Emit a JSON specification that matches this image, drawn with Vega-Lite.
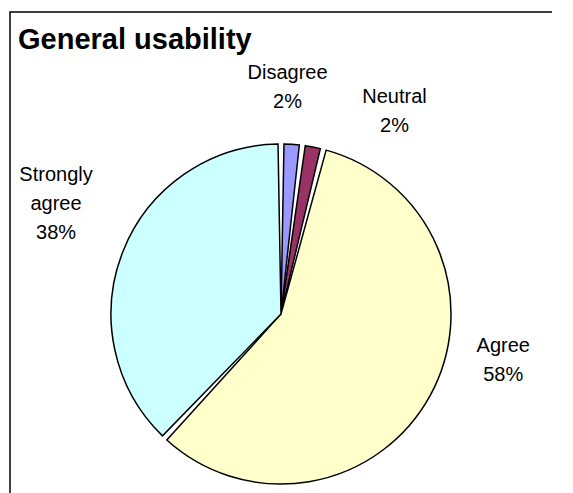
{
  "$schema": "https://vega.github.io/schema/vega-lite/v6.json",
  "autosize": "none",
  "width": 542,
  "height": 604,
  "padding": {"left": 10, "top": 12, "right": 0, "bottom": 0},
  "background": "white",
  "config": {
    "font": "Liberation Sans",
    "style": {"view": {"stroke": "black", "strokeWidth": 1.5, "strokeDash": [542, 1208, 542]}}
  },
  "title": {
    "text": "General usability",
    "anchor": "start",
    "frame": "group",
    "font": "Liberation Sans",
    "fontSize": 29,
    "fontWeight": "bold",
    "color": "black",
    "orient": "top",
    "offset": 0,
    "dy": 43,
    "dx": 8
  },
  "data": {
    "values": [
      {"rank": 1, "response": "Disagree", "pct": 2, "label": "Disagree\n2%"},
      {"rank": 2, "response": "Neutral", "pct": 2, "label": "Neutral\n2%"},
      {"rank": 3, "response": "Agree", "pct": 58, "label": "Agree\n58%"},
      {"rank": 4, "response": "Strongly agree", "pct": 38, "label": "Strongly\nagree\n38%"}
    ]
  },
  "encoding": {
    "theta": {"field": "pct", "type": "quantitative", "stack": true},
    "order": {"field": "rank", "type": "quantitative"}
  },
  "layer": [
    {
      "mark": {"type": "arc", "outerRadius": 170, "padAngle": 0.035, "stroke": "black", "strokeWidth": 1.5},
      "encoding": {
        "color": {
          "field": "response",
          "type": "nominal",
          "scale": {
            "domain": ["Disagree", "Neutral", "Agree", "Strongly agree"],
            "range": ["#9999FF", "#993366", "#FFFFCC", "#CCFFFF"]
          },
          "legend": null
        }
      }
    },
    {
      "mark": {"type": "text", "radius": 200, "dx": -6, "dy": -41, "lineBreak": "\n", "fontSize": 20, "lineHeight": 29, "align": "center", "baseline": "middle", "color": "black"},
      "encoding": {"text": {"condition": {"test": "datum.response === 'Disagree'", "field": "label"}, "value": ""}}
    },
    {
      "mark": {"type": "text", "radius": 200, "dx": 76, "dy": -21, "lineBreak": "\n", "fontSize": 20, "lineHeight": 29, "align": "center", "baseline": "middle", "color": "black"},
      "encoding": {"text": {"condition": {"test": "datum.response === 'Neutral'", "field": "label"}, "value": ""}}
    },
    {
      "mark": {"type": "text", "radius": 200, "dx": 47, "dy": -64, "lineBreak": "\n", "fontSize": 20, "lineHeight": 29, "align": "center", "baseline": "middle", "color": "black"},
      "encoding": {"text": {"condition": {"test": "datum.response === 'Agree'", "field": "label"}, "value": ""}}
    },
    {
      "mark": {"type": "text", "radius": 200, "dx": -39, "dy": -65, "lineBreak": "\n", "fontSize": 20, "lineHeight": 29, "align": "center", "baseline": "middle", "color": "black"},
      "encoding": {"text": {"condition": {"test": "datum.response === 'Strongly agree'", "field": "label"}, "value": ""}}
    }
  ]
}
